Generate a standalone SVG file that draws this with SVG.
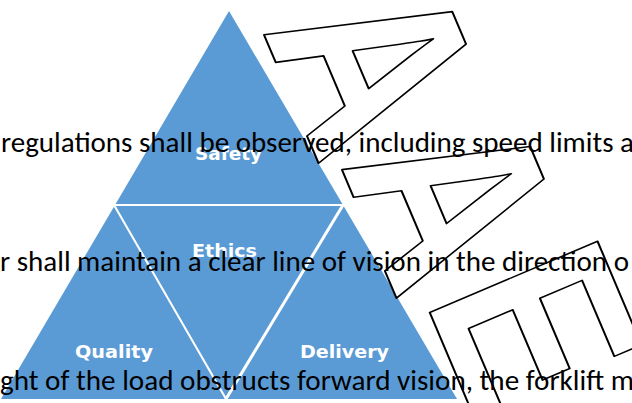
<svg xmlns="http://www.w3.org/2000/svg" width="632" height="403" viewBox="0 0 632 403">
  <style>
    .seg { fill: #5B9BD5; }
    .div { stroke: #fff; fill: none; }
    .lbl { font-family: "DejaVu Sans", "Liberation Sans", sans-serif; font-weight: bold; font-size: 18.5px; fill: #fff; }
    .body { font-family: Carlito, Calibri, Lato, "Liberation Sans", sans-serif; font-size: 29px; fill: #000; }
    .art { font-family: "Liberation Sans", Arial, sans-serif; font-weight: bold; font-size: 265px; fill: #fff; stroke: #000; stroke-width: 2; stroke-linejoin: round; }
  </style>
  <rect width="632" height="403" fill="#fff"/>
  <g id="node-safety">
    <polygon class="seg" points="229,11 343,205 115,205"/>
    <text class="lbl" x="195" y="160" textLength="67" lengthAdjust="spacingAndGlyphs">Safety</text>
  </g>
  <g id="node-ethics">
    <polygon class="seg" points="115,205 343,205 227,399"/>
    <text class="lbl" x="192" y="257" textLength="65" lengthAdjust="spacingAndGlyphs">Ethics</text>
  </g>
  <g id="node-quality">
    <polygon class="seg" points="115,205 227,399 1,399"/>
    <text class="lbl" x="75" y="358" textLength="78" lengthAdjust="spacingAndGlyphs">Quality</text>
  </g>
  <g id="node-delivery">
    <polygon class="seg" points="343,205 457,399 227,399"/>
    <text class="lbl" x="300" y="358" textLength="89" lengthAdjust="spacingAndGlyphs">Delivery</text>
  </g>
  <g id="connectors">
    <line class="div" x1="113" y1="205" x2="344" y2="205" stroke-width="2"/>
    <line class="div" x1="114" y1="205" x2="226" y2="399" stroke-width="2"/>
    <line class="div" x1="343" y1="205" x2="226" y2="399" stroke-width="3"/>
  </g>
  <g id="wordart">
    <text class="art" transform="translate(262,30) rotate(67) scale(0.785,1)" vector-effect="non-scaling-stroke"><tspan x="0" y="0">A</tspan><tspan x="197" y="-19">A</tspan><tspan x="397" y="-44">E</tspan></text>
  </g>
  <g id="overlay-text">
    <text class="body" x="1" y="152" textLength="633" lengthAdjust="spacingAndGlyphs">regulations shall be observed, including speed limits a</text>
    <text class="body" x="0" y="271" textLength="629" lengthAdjust="spacingAndGlyphs">r shall maintain a clear line of vision in the direction o</text>
    <text class="body" x="0" y="390" textLength="634" lengthAdjust="spacingAndGlyphs">ght of the load obstructs forward vision, the forklift m</text>
  </g>
</svg>
